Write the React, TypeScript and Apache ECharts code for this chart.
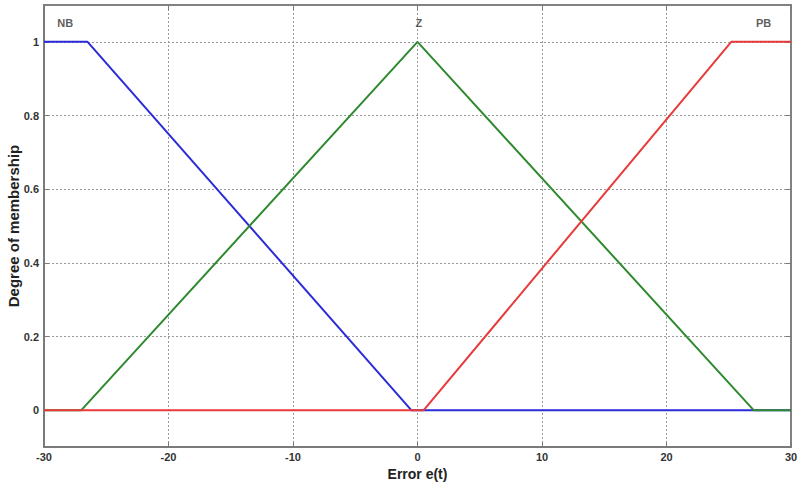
import React, { useEffect, useRef } from "react";
import * as echarts from "echarts";

const xTicks = [-30, -20, -10, 0, 10, 20, 30];
const yTicks = [0, 0.2, 0.4, 0.6, 0.8, 1];
const nbPoints: [number, number][] = [[-30, 1], [-26.5, 1], [-0.5, 0], [30, 0]];
const zPoints: [number, number][] = [[-30, 0], [-27, 0], [0, 1], [27, 0], [30, 0]];
const pbPoints: [number, number][] = [[-30, 0], [0.5, 0], [25.2, 1], [30, 1]];
const mfNames = ["NB", "Z", "PB"];
const mfLabelX = [-28.3, 0.1, 27.8];
const mfLabelY = 1.05;

export default function App() {
  const ref = useRef<HTMLDivElement>(null);
  useEffect(() => {
    if (!ref.current) return;
    const chart = echarts.init(ref.current, undefined, { renderer: "svg" });
    const font = "Liberation Sans, Arial, sans-serif";
    const axisColor = "#7a7a7a";
    const labelStyle = { color: "#333", fontSize: 11, fontWeight: "bold" as const, fontFamily: font };
    const gridLine = { show: true, lineStyle: { color: "#999", type: [2, 2] as any, width: 1 } };
    chart.setOption({
      animation: false,
      backgroundColor: "#fff",
      grid: { left: 44, right: 7, top: 5, bottom: 39, show: true, borderColor: axisColor, borderWidth: 1.5, outerBoundsMode: "none", containLabel: false },
      xAxis: [
        {
          type: "value", min: xTicks[0], max: xTicks[xTicks.length - 1], interval: 10, position: "bottom",
          name: "Error e(t)", nameLocation: "middle", nameGap: 19,
          nameTextStyle: { fontSize: 14, fontFamily: font, color: "#222", fontWeight: 600 },
          axisLine: { show: true, onZero: false, lineStyle: { color: axisColor, width: 2 } },
          axisTick: { show: true, inside: true, length: 5, lineStyle: { color: axisColor } },
          axisLabel: { ...labelStyle, margin: 4 },
          splitLine: gridLine,
        },
        {
          type: "value", min: xTicks[0], max: xTicks[xTicks.length - 1], interval: 10, position: "top",
          axisLine: { show: true, onZero: false, lineStyle: { color: axisColor, width: 1.5 } },
          axisTick: { show: true, inside: true, length: 5, lineStyle: { color: axisColor } },
          axisLabel: { show: false },
          splitLine: { show: false },
        },
      ],
      yAxis: [
        {
          type: "value", min: -0.1, max: 1.1, position: "left",
          name: "Degree of membership", nameLocation: "middle", nameGap: 23, nameMoveOverlap: false,
          nameTextStyle: { fontSize: 15, fontFamily: font, color: "#222", fontWeight: "bold" },
          axisLine: { show: true, onZero: false, lineStyle: { color: axisColor, width: 2 } },
          axisTick: { show: true, inside: true, length: 5, customValues: yTicks, lineStyle: { color: axisColor } },
          axisLabel: { ...labelStyle, margin: 5, customValues: yTicks, formatter: (v: number) => String(Math.round(v * 10) / 10) },
          splitLine: gridLine,
        },
        {
          type: "value", min: -0.1, max: 1.1, position: "right",
          axisLine: { show: true, onZero: false, lineStyle: { color: axisColor, width: 1.5 } },
          axisTick: { show: true, inside: true, length: 5, customValues: yTicks, lineStyle: { color: axisColor } },
          axisLabel: { show: false, customValues: yTicks },
          splitLine: { show: false },
        },
      ],
      series: [
        { type: "line", name: "NB", data: nbPoints, symbol: "none", lineStyle: { color: "#2b2bd8", width: 2 }, z: 3 },
        { type: "line", name: "Z", data: zPoints, symbol: "none", lineStyle: { color: "#2f8a2f", width: 2 }, z: 4 },
        { type: "line", name: "PB", data: pbPoints, symbol: "none", lineStyle: { color: "#e83a3a", width: 2 }, z: 5 },
        {
          type: "scatter", symbolSize: 0, silent: true,
          data: mfNames.map((n, i) => ({ name: n, value: [mfLabelX[i], mfLabelY] })),
          label: { show: true, position: "inside", formatter: "{b}", color: "#333", fontSize: 11, fontWeight: "bold", fontFamily: font },
        },
      ],
    });
    return () => chart.dispose();
  }, []);
  return <div ref={ref} style={{ width: 798, height: 486, position: "absolute", left: 0, top: 0 }} />;
}
